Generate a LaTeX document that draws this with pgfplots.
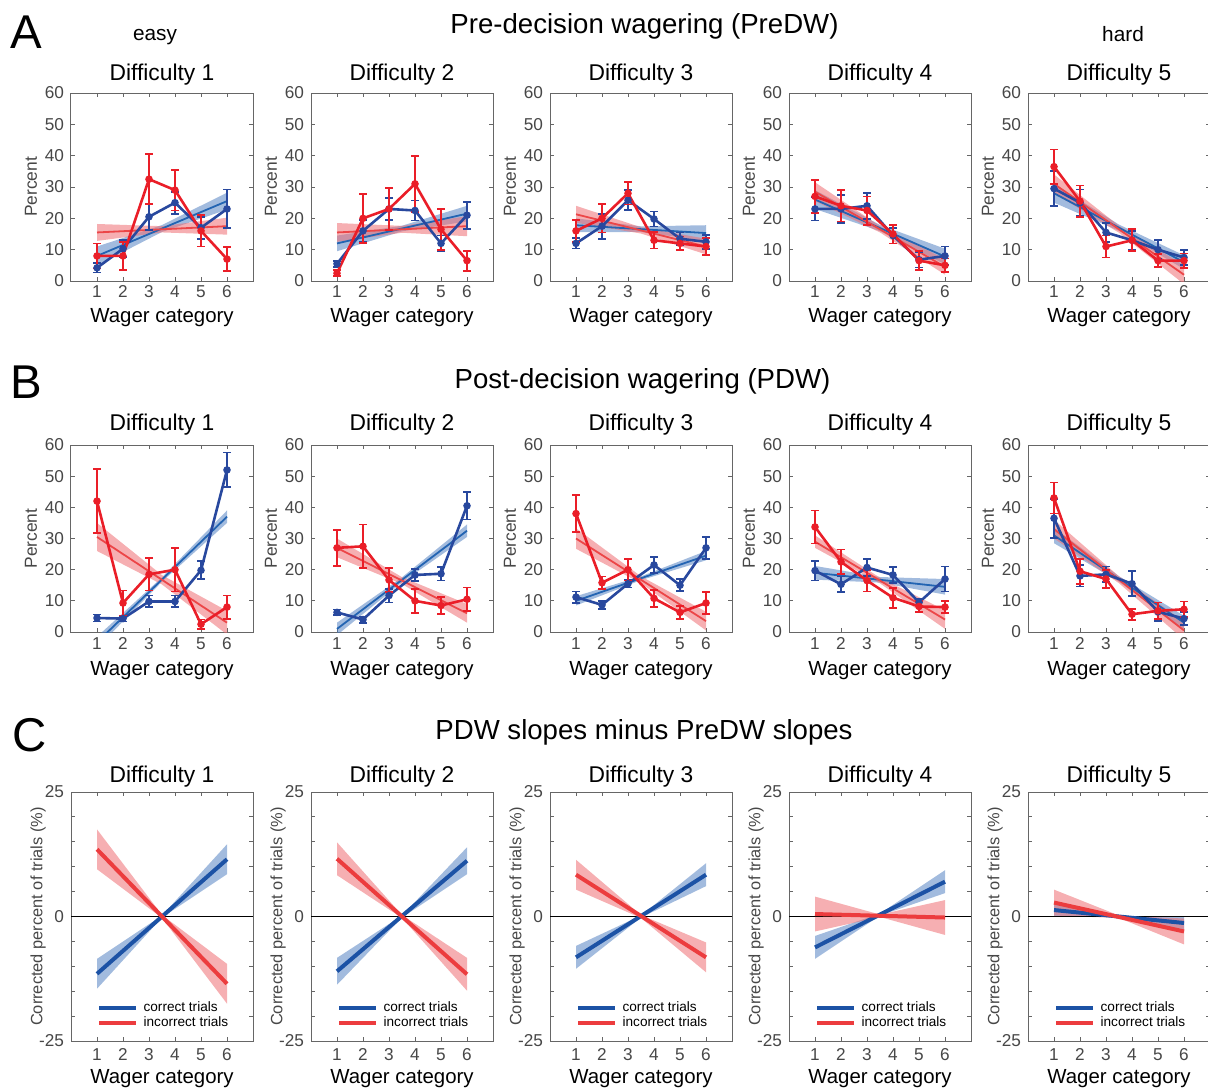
\documentclass[border=0pt]{standalone}
\usepackage{fontspec}
\setmainfont{Liberation Sans}
\usepackage{pgfplots}
\pgfplotsset{compat=1.18}

\definecolor{mblue}{RGB}{40,72,158}
\definecolor{rblue}{RGB}{35,100,178}
\definecolor{bblue}{RGB}{70,120,190}
\definecolor{mred}{RGB}{234,30,40}
\definecolor{rred}{RGB}{236,70,72}
\definecolor{bred}{RGB}{238,110,115}
\definecolor{cblue}{RGB}{28,82,165}
\definecolor{cred}{RGB}{236,60,62}

\newcommand{\fticks}{\fontsize{8.6}{10}\selectfont}
\newcommand{\ftitle}{\fontsize{11.4}{13}\selectfont}
\newcommand{\flabel}{\fontsize{10.2}{12}\selectfont}
\newcommand{\fylab}{\fontsize{8.7}{10}\selectfont}
\newcommand{\fylabc}{\fontsize{8.2}{10}\selectfont}
\newcommand{\flegend}{\fontsize{6.8}{8}\selectfont}
\newcommand{\fsec}{\fontsize{13.8}{16}\selectfont}
\newcommand{\fletter}{\fontsize{23.7}{28}\selectfont}
\newcommand{\fside}{\fontsize{10.4}{12}\selectfont}

\pgfplotsset{
  base/.style={
    scale only axis, width=91pt, anchor=south west,
    xmin=0, xmax=7, xtick={1,...,6},
    tick align=inside, tick pos=both, major tick length=2pt,
    axis line style={black!60, line width=0.5pt},
    tick style={black!60, line width=0.5pt},
    ticklabel style={font=\fticks, text=black!72},
    /pgf/number format/assume math mode=true,
    every axis title shift=0pt,
    title style={font=\ftitle, anchor=base, at={(axis description cs:0.5,1)}},
    xlabel={Wager category},
    xlabel style={font=\flabel, anchor=base, at={(axis description cs:0.5,0)}},
    xticklabel style={anchor=base},
  },
  rowAB/.style={base, ymin=0, ymax=60, ytick={0,10,...,60}, ylabel={Percent},
    ylabel style={font=\fylab, text=black!72, at={(axis description cs:-0.22,0.5)}, anchor=center}},
  rowA/.style={rowAB, height=94pt, title style={yshift=6.5pt},
    xticklabel style={yshift=-8pt}, xlabel style={yshift=-20.5pt}},
  rowB/.style={rowAB, height=93.5pt, title style={yshift=7.5pt},
    xticklabel style={yshift=-8.5pt}, xlabel style={yshift=-21.5pt}},
  rowC/.style={base, height=124.5pt, ymin=-25, ymax=25, ytick={-25,-20,...,25},
    yticklabels={-25,,,,,0,,,,,25},
    ylabel={Corrected percent of trials (\%)},
    ylabel style={font=\fylabc, text=black!72, at={(axis description cs:-0.18,0.5)}, anchor=center},
    title style={yshift=5pt}, xticklabel style={yshift=-9.5pt}, xlabel style={yshift=-21pt},
    legend cell align=left,
    legend style={draw=none, fill=none, at={(axis description cs:0.143,0.04)}, anchor=south west,
      font=\flegend, inner sep=0pt, nodes={inner sep=0.6pt}},
    legend image code/.code={\draw[##1, line width=2pt] (0pt,0pt) -- (18.5pt,0pt); \path (20.5pt,0pt);}},
  bandB/.style={draw=none, fill=bblue, fill opacity=0.5, forget plot},
  bandR/.style={draw=none, fill=bred, fill opacity=0.55, forget plot},
  regB/.style={rblue, line width=0.9pt},
  regR/.style={rred, line width=0.9pt},
  meanB/.style={mblue, line width=1.3pt, mark=*, mark size=1.2pt,
    /pgfplots/error bars/y dir=both, /pgfplots/error bars/y explicit,
    /pgfplots/error bars/error bar style={mblue, line width=0.9pt},
    /pgfplots/error bars/error mark options={rotate=90, mark size=1.8pt, line width=0.9pt, mblue}},
  meanR/.style={mred, line width=1.3pt, mark=*, mark size=1.2pt,
    /pgfplots/error bars/y dir=both, /pgfplots/error bars/y explicit,
    /pgfplots/error bars/error bar style={mred, line width=0.9pt},
    /pgfplots/error bars/error mark options={rotate=90, mark size=1.8pt, line width=0.9pt, mred}},
  bandCB/.style={draw=none, fill=bblue, fill opacity=0.5, forget plot},
  bandCR/.style={draw=none, fill=bred, fill opacity=0.55, forget plot},
}

% #1 position, #2 row style, #3 title, #4 blue band, #5 red band,
% #6 blue fit, #7 red fit, #8 blue means, #9 red means
\newcommand{\abpanel}[9]{%
\begin{axis}[#2, at={#1}, title={#3}]
\addplot[bandB] coordinates {#4};
\addplot[bandR] coordinates {#5};
\addplot[regB] coordinates {#6};
\addplot[regR] coordinates {#7};
\addplot[meanB] coordinates {#8};
\addplot[meanR] coordinates {#9};
\end{axis}}

% #1 position, #2 title, #3 blue band, #4 red band, #5 blue line, #6 red line
\newcommand{\cpanel}[6]{%
\begin{axis}[rowC, at={#1}, title={#2}]
\addplot[bandCB] coordinates {#3};
\addplot[bandCR] coordinates {#4};
\addplot[black, line width=0.5pt, forget plot] coordinates {(0,0) (7,0)};
\addplot[cblue, line width=2pt] coordinates {#5};
\addplot[cred, line width=2pt] coordinates {#6};
\legend{correct trials, incorrect trials}
\end{axis}}

\begin{document}
\begin{tikzpicture}
\useasboundingbox (0pt,0pt) rectangle (604pt,-544pt);

% headings
\node[font=\fletter, anchor=base west, inner sep=0pt] at (5pt,-24pt) {A};
\node[font=\fletter, anchor=base west, inner sep=0pt] at (5pt,-199pt) {B};
\node[font=\fletter, anchor=base west, inner sep=0pt] at (6pt,-375.5pt) {C};
\node[font=\fsec, anchor=base, inner sep=0pt] at (322.25pt,-16.8pt) {Pre-decision wagering (PreDW)};
\node[font=\fsec, anchor=base, inner sep=0pt] at (321.25pt,-194pt) {Post-decision wagering (PDW)};
\node[font=\fsec, anchor=base, inner sep=0pt] at (322pt,-369.5pt) {PDW slopes minus PreDW slopes};
\node[font=\fside, anchor=base, inner sep=0pt] at (77.5pt,-20pt) {easy};
\node[font=\fside, anchor=base, inner sep=0pt] at (561.5pt,-20.5pt) {hard};

% Row A: PreDW
\abpanel{(35.5pt,-140.5pt)}{rowA}{Difficulty 1}
 {(1,5) (3.5,15.65) (6,22.8) (6,28.2) (3.5,17.85) (1,11)}
 {(1,12.8) (3.5,15.5) (6,14.8) (6,20.2) (3.5,17.5) (1,18.2)}
 {(1,8) (6,25.5)}
 {(1,15.5) (6,17.5)}
 {(1,4.2) +- (0,1.5) (2,10.3) +- (0,2.7) (3,20.5) +- (0,4.2) (4,25) +- (0,3.5) (5,17) +- (0,3.5) (6,23) +- (0,6.2)}
 {(1,8) +- (0,4) (2,8) +- (0,4.5) (3,32.5) +- (0,8) (4,29) +- (0,6.5) (5,16) +- (0,5) (6,7) +- (0,3.8)}

\abpanel{(155.5pt,-140.5pt)}{rowA}{Difficulty 2}
 {(1,9.5) (3.5,15.85) (6,19) (6,24) (3.5,17.65) (1,14.5)}
 {(1,12.5) (3.5,15.4) (6,14.3) (6,20.7) (3.5,17.6) (1,18.5)}
 {(1,12) (6,21.5)}
 {(1,15.5) (6,17.5)}
 {(1,5.5) +- (0,1) (2,16) +- (0,3.5) (3,23) +- (0,3.5) (4,22.5) +- (0,3.2) (5,12) +- (0,2.5) (6,21) +- (0,4.3)}
 {(1,2.5) +- (0,1) (2,20) +- (0,7.8) (3,23) +- (0,6.7) (4,31) +- (0,9) (5,16.5) +- (0,6.5) (6,6.5) +- (0,3.2)}

\abpanel{(275pt,-140.5pt)}{rowA}{Difficulty 3}
 {(1,15.6) (3.5,15.65) (6,12.8) (6,17.8) (3.5,17.45) (1,20)}
 {(1,18.6) (3.5,15.15) (6,8.5) (6,13.5) (3.5,17.15) (1,24)}
 {(1,17.8) (6,15.3)}
 {(1,21.3) (6,11)}
 {(1,12) +- (0,1.6) (2,17.5) +- (0,4) (3,25.8) +- (0,3.2) (4,19.8) +- (0,2.4) (5,13.5) +- (0,2) (6,12.5) +- (0,2.3)}
 {(1,16) +- (0,3.5) (2,20) +- (0,4.5) (3,28) +- (0,3.6) (4,13) +- (0,2.6) (5,12) +- (0,2.2) (6,11) +- (0,2.6)}

\abpanel{(394.5pt,-140.5pt)}{rowA}{Difficulty 4}
 {(1,23) (3.5,15.9) (6,5.3) (6,10.3) (3.5,17.9) (1,29)}
 {(1,25.5) (3.5,15.5) (6,2) (6,7) (3.5,17.5) (1,31.5)}
 {(1,26) (6,7.8)}
 {(1,28.5) (6,4.5)}
 {(1,23) +- (0,3.7) (2,23) +- (0,4.5) (3,24) +- (0,4.2) (4,14.5) +- (0,2.5) (5,6.8) +- (0,2.5) (6,8) +- (0,3)}
 {(1,27) +- (0,5.2) (2,24) +- (0,5) (3,22.5) +- (0,4.5) (4,15) +- (0,3) (5,6.5) +- (0,3) (6,5) +- (0,2.2)}

\abpanel{(514pt,-140.5pt)}{rowA}{Difficulty 5}
 {(1,25) (3.5,16) (6,3.8) (6,8.2) (3.5,18) (1,31)}
 {(1,28) (3.5,15.4) (6,-1) (6,5) (3.5,17.6) (1,34)}
 {(1,28) (6,6)}
 {(1,31) (6,2)}
 {(1,29.5) +- (0,5.5) (2,25) +- (0,4.2) (3,15.5) +- (0,3) (4,13) +- (0,3) (5,10) +- (0,3) (6,7.5) +- (0,2.5)}
 {(1,36.5) +- (0,5.5) (2,25.5) +- (0,5) (3,11) +- (0,3.5) (4,13) +- (0,3.5) (5,6.5) +- (0,2) (6,6.5) +- (0,2.3)}

% Row B: PDW
\abpanel{(35.5pt,-316pt)}{rowB}{Difficulty 1}
 {(1,-5.1) (3.5,16.15) (6,35) (6,39) (3.5,17.55) (1,-1.5)}
 {(1,26) (3.5,15.25) (6,-0.8) (6,6.8) (3.5,18.25) (1,35)}
 {(1,-3.3) (6,37)}
 {(1,30.5) (6,3)}
 {(1,4.5) +- (0,1.1) (2,4.3) +- (0,0.9) (3,9.8) +- (0,1.9) (4,9.8) +- (0,1.9) (5,19.8) +- (0,2.9) (6,52) +- (0,5.6)}
 {(1,42) +- (0,10.2) (2,9.3) +- (0,4) (3,18.5) +- (0,5.2) (4,20) +- (0,7) (5,2.5) +- (0,1.5) (6,8) +- (0,3.7)}

\abpanel{(155.5pt,-316pt)}{rowB}{Difficulty 2}
 {(1,-1) (3.5,15.95) (6,30.5) (6,34.5) (3.5,17.55) (1,3)}
 {(1,24) (3.5,15.4) (6,3) (6,9) (3.5,17.6) (1,30)}
 {(1,1) (6,32.5)}
 {(1,27) (6,6)}
 {(1,6.3) +- (0,0.9) (2,4) +- (0,1) (3,11.7) +- (0,2.2) (4,18.3) +- (0,2) (5,18.7) +- (0,2.2) (6,40.5) +- (0,4.4)}
 {(1,27) +- (0,5.8) (2,27.5) +- (0,7) (3,16.7) +- (0,3.8) (4,10) +- (0,3.8) (5,8.5) +- (0,2.7) (6,10.5) +- (0,3.8)}

\abpanel{(275pt,-316pt)}{rowB}{Difficulty 3}
 {(1,8.5) (3.5,16.65) (6,23) (6,26) (3.5,17.85) (1,11.5)}
 {(1,26.7) (3.5,15.65) (6,0.5) (6,6.5) (3.5,17.85) (1,33.3)}
 {(1,10) (6,24.5)}
 {(1,30) (6,3.5)}
 {(1,11.2) +- (0,1.8) (2,8.7) +- (0,1.2) (3,15.5) +- (0,1.2) (4,21.5) +- (0,2.6) (5,15) +- (0,1.9) (6,27) +- (0,3.6)}
 {(1,38) +- (0,6) (2,15.8) +- (0,2) (3,20) +- (0,3.5) (4,10.8) +- (0,2.8) (5,6.3) +- (0,2) (6,9.3) +- (0,3.5)}

\abpanel{(394.5pt,-316pt)}{rowB}{Difficulty 4}
 {(1,16.8) (3.5,15.85) (6,12) (6,17) (3.5,17.65) (1,21.2)}
 {(1,27) (3.5,15.6) (6,1) (6,7) (3.5,17.4) (1,31)}
 {(1,19) (6,14.5)}
 {(1,29) (6,4)}
 {(1,19.7) +- (0,3.2) (2,15.3) +- (0,2.5) (3,20.7) +- (0,2.7) (4,18.3) +- (0,2.5) (5,9.5) +- (0,1) (6,17) +- (0,4)}
 {(1,33.7) +- (0,5.3) (2,22.5) +- (0,4) (3,16.5) +- (0,3.5) (4,11) +- (0,3.2) (5,8.2) +- (0,1.8) (6,8) +- (0,2)}

\abpanel{(514pt,-316pt)}{rowB}{Difficulty 5}
 {(1,28.5) (3.5,16.1) (6,0.8) (6,5.2) (3.5,17.9) (1,33.5)}
 {(1,30) (3.5,15.65) (6,-2.5) (6,3.5) (3.5,17.85) (1,36)}
 {(1,31) (6,3)}
 {(1,33) (6,0.5)}
 {(1,36.5) +- (0,6.3) (2,18) +- (0,3.4) (3,18.5) +- (0,2.5) (4,15.5) +- (0,4) (5,6.5) +- (0,3) (6,4.3) +- (0,2)}
 {(1,43) +- (0,5) (2,19.5) +- (0,4) (3,17) +- (0,3) (4,5.7) +- (0,1.8) (5,6.8) +- (0,2.7) (6,7.3) +- (0,2.5)}

% Row C: slope differences
\cpanel{(35.5pt,-520.5pt)}{Difficulty 1}
 {(1,-14.5) (3.5,-0.2) (6,8.5) (6,14.5) (3.5,0.2) (1,-8.5)}
 {(1,9.5) (3.5,-0.3) (6,-17.5) (6,-9.5) (3.5,0.3) (1,17.5)}
 {(1,-11.5) (6,11.5)}
 {(1,13.5) (6,-13.5)}

\cpanel{(155.5pt,-520.5pt)}{Difficulty 2}
 {(1,-13.7) (3.5,-0.2) (6,8.5) (6,13.9) (3.5,0.2) (1,-8.3)}
 {(1,8.3) (3.5,-0.3) (6,-14.9) (6,-8.3) (3.5,0.3) (1,14.9)}
 {(1,-11) (6,11.2)}
 {(1,11.6) (6,-11.6)}

\cpanel{(275pt,-520.5pt)}{Difficulty 3}
 {(1,-10.5) (3.5,-0.2) (6,6.1) (6,10.7) (3.5,0.2) (1,-5.9)}
 {(1,5.4) (3.5,-0.3) (6,-11.2) (6,-5.2) (3.5,0.3) (1,11.4)}
 {(1,-8.2) (6,8.4)}
 {(1,8.4) (6,-8.2)}

\cpanel{(394.5pt,-520.5pt)}{Difficulty 4}
 {(1,-8.5) (3.5,0.2) (6,4.7) (6,9.3) (3.5,0.6) (1,-3.9)}
 {(1,-3) (3.5,-0.1) (6,-3.7) (6,3.3) (3.5,0.4) (1,4)}
 {(1,-6.2) (6,7)}
 {(1,0.5) (6,-0.2)}

\cpanel{(514pt,-520.5pt)}{Difficulty 5}
 {(1,0) (3.5,-0.1) (6,-2.6) (6,0) (3.5,0.1) (1,2.6)}
 {(1,0.2) (3.5,-0.3) (6,-5.6) (6,-0.4) (3.5,0.2) (1,5.4)}
 {(1,1.3) (6,-1.3)}
 {(1,2.8) (6,-3)}
\end{tikzpicture}
\end{document}
